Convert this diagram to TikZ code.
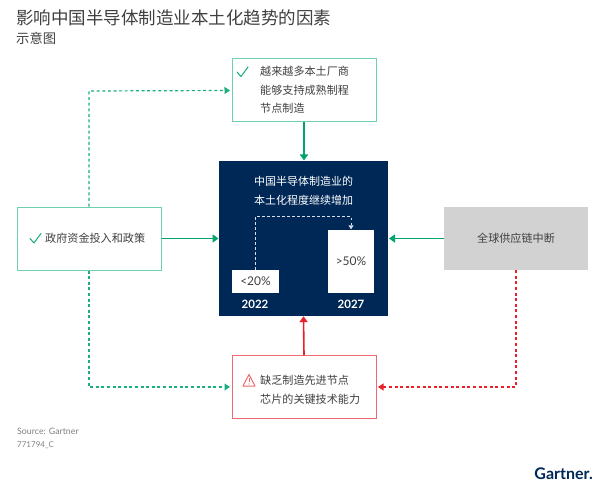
\documentclass[tikz,border=0pt]{standalone}
\usepackage{fontspec}
\setmainfont{Noto Sans CJK SC}
\newfontfamily\latinf{Lato}
\usetikzlibrary{arrows.meta,calc}
\definecolor{grn}{HTML}{00A36F}
\definecolor{lgrn}{HTML}{6FCFB0}
\definecolor{redc}{HTML}{E8202A}
\definecolor{lred}{HTML}{EE6A70}
\definecolor{navy}{HTML}{002856}
\definecolor{gry}{HTML}{D2D2D2}
\definecolor{txt}{HTML}{404040}
\tikzset{
 x=1pt,y=1pt,
 gbox/.style={draw=lgrn,line width=1pt,fill=white,text=txt,inner sep=0pt},
 rbox/.style={draw=lred,line width=1pt,fill=white,text=txt,inner sep=0pt},
 lab/.style={text=txt,font=\fontsize{11.1}{18.5}\selectfont,align=left,inner sep=0pt,anchor=west},
 solidg/.style={draw=grn,line width=1.6pt,-{Triangle[length=6pt,width=8pt]}},
 solidr/.style={draw=redc,line width=1.6pt,-{Triangle[length=6pt,width=8pt]}},
 dashg/.style={draw=grn!75!lgrn,line width=1.2pt,dash pattern=on 3pt off 2.6pt,-{Triangle[length=5.5pt,width=7pt]}},
 dashr/.style={draw=redc,line width=1.2pt,dash pattern=on 3pt off 2.6pt,-{Triangle[length=5.5pt,width=7pt]}},
 dashw/.style={draw=white!85!navy,line width=.9pt,dash pattern=on 2.5pt off 2.5pt,-{Triangle[length=4pt,width=5pt]}},
 chk/.style={draw=grn!80!lgrn,line width=1pt,line cap=round,line join=round},
}
\begin{document}
\begin{tikzpicture}
\useasboundingbox (0,0) rectangle (607,-497);
\node[anchor=west,inner sep=0pt,text=txt,font=\fontsize{17.5}{20}\selectfont] (title) at (16,-18) {影响中国半导体制造业本土化趋势的因素};
\node[anchor=west,inner sep=0pt,text=txt,font=\fontsize{13.3}{15}\selectfont] (sub) at (16,-38.5) {示意图};
% boxes
\node[gbox,minimum width=144pt,minimum height=63pt] (top) at (304,-90.5) {};
\node[gbox,minimum width=144pt,minimum height=63pt] (left) at (89,-238.5) {};
\node[rbox,minimum width=144pt,minimum height=63pt] (bot) at (304,-387) {};
\node[draw=none,fill=gry,minimum width=144pt,minimum height=63pt,inner sep=0pt] (right) at (516,-238.5) {};
\node[draw=none,fill=navy,minimum width=169pt,minimum height=155pt,inner sep=0pt] (main) at (303.5,-238.5) {};
% box text
\node[lab] (toptxt) at (260,-90) {越来越多本土厂商\\能够支持成熟制程\\节点制造};
\node[lab] (lefttxt) at (45,-238) {政府资金投入和政策};
\node[text=txt,font=\fontsize{11.1}{18}\selectfont,inner sep=0pt] (righttxt) at (516,-238) {全球供应链中断};
\node[lab] (bottxt) at (260,-390) {缺乏制造先进节点\\芯片的关键技术能力};
\node[text=white,font=\fontsize{11}{18.5}\selectfont,align=center,inner sep=0pt] (maintxt) at (303.5,-191) {中国半导体制造业的\\本土化程度继续增加};
% bars
\node[fill=white,minimum width=47pt,minimum height=23.5pt,inner sep=0pt,text=txt,font=\latinf\fontsize{12}{14}\selectfont] (b22) at (255.5,-281.5) {<20\%};
\node[fill=white,minimum width=46.5pt,minimum height=63pt,inner sep=0pt,text=txt,font=\latinf\fontsize{12}{14}\selectfont] (b27) at (351,-261) {>50\%};
\node[text=white,inner sep=0pt,font=\latinf\bfseries\fontsize{11.5}{13}\selectfont] (y22) at (255,-304.5) {2022};
\node[text=white,inner sep=0pt,font=\latinf\bfseries\fontsize{11.5}{13}\selectfont] (y27) at (351,-304.5) {2027};
\draw[dashw] (b22.north) |- (351,-216.5) -- (b27.north);
% solid connectors
\draw[solidg] (top.south) -- (304,-160.5);
\draw[solidg] (left.east) -- (218.5,-238.5);
\draw[solidg] (right.west) -- (389,-238.5);
\draw[solidr] (bot.north) -- (main.south);
% dashed connectors
\coordinate (tl) at (89,-91);
\coordinate (bl) at (89,-387);
\coordinate (br) at (516,-387);
\draw[dashg] (left.north) -- (tl) -- ($(top.west)+(-1.5,0)$);
\draw[dashg] (left.south) -- (bl) -- ($(bot.west)+(-1.5,0)$);
\draw[dashr] (right.south) -- (br) -- ($(bot.east)+(1.5,0)$);
% icons
\draw[chk] (237,-72) -- (241,-76.5) -- (248,-67);
\draw[chk] (30,-238.5) -- (34,-243) -- (41,-233.5);
\draw[draw=lred,line width=1pt,line join=round] (249,-374.5) -- (243,-386) -- (255,-386) -- cycle;
\draw[draw=lred,line width=.9pt] (249,-378) -- (249,-382);
\fill[lred] (249,-384) circle (.55pt);
% footer
\node[anchor=west,inner sep=0pt,text=gray,font=\latinf\fontsize{8.8}{10}\selectfont] (src) at (17,-431) {Source: Gartner};
\node[anchor=west,inner sep=0pt,text=gray,font=\latinf\fontsize{8}{10}\selectfont] (id) at (17,-445) {771794\_C};
\node[anchor=east,inner sep=0pt,text=navy,font=\latinf\bfseries\fontsize{16}{18}\selectfont] (logo) at (593,-473.5) {Gartner.};
\end{tikzpicture}
\end{document}
